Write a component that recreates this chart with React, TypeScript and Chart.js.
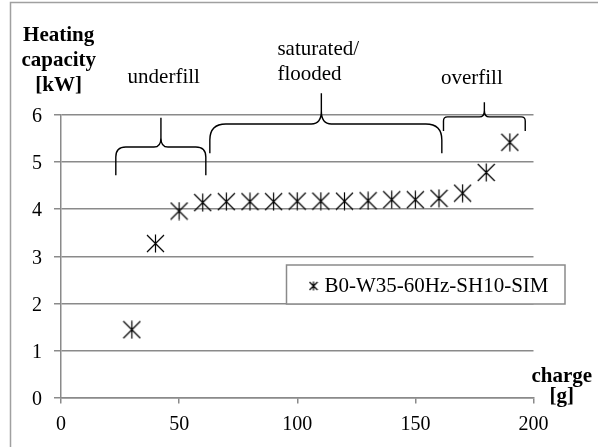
import React, { useEffect, useRef } from "react";
import { Chart, registerables } from "chart.js";

Chart.register(...registerables);

// Refrigerant charge (g) and simulated heating capacity (kW)
const chargeGrams = [30, 40, 50, 60, 70, 80, 90, 100, 110, 120, 130, 140, 150, 160, 170, 180, 190];
const heatingKW = [1.44, 3.27, 3.96, 4.14, 4.16, 4.16, 4.16, 4.17, 4.17, 4.17, 4.18, 4.2, 4.2, 4.23, 4.34, 4.78, 5.42];

const xTickValues = [0, 50, 100, 150, 200];
const yTickValues = [0, 1, 2, 3, 4, 5, 6];

const seriesLabel = "B0-W35-60Hz-SH10-SIM";
const yTitleLines = ["Heating", "capacity", "[kW]"];
const xTitleLines = ["charge", "[g]"];

// Operating regions marked with curly braces (in axis units)
const regionNames = ["underfill", "saturated/\nflooded", "overfill"];
const regionFrom = [23.2, 63.0, 161.9];
const regionTo = [61.3, 161.2, 196.5];
const regionTip = [42.3, 110.2, 179.2];

// Brace geometry and label placement (axis units / pixels)
const BRACE = [
  { yEnd: 4.72, yLevel: 5.32, yTop: 5.94, r: 10, rt: 7, labelX: 43.5, labelY: 6.69, align: "center" as CanvasTextAlign },
  { yEnd: 5.19, yLevel: 5.81, yTop: 6.46, r: 16, rt: 10, labelX: 91.6, labelY: 7.27, align: "left" as CanvasTextAlign },
  { yEnd: 5.66, yLevel: 5.96, yTop: 6.27, r: 4, rt: 5, labelX: 173.9, labelY: 6.65, align: "center" as CanvasTextAlign },
];

const SERIF = "'Liberation Serif', 'Times New Roman', serif";
const GRID = "#8a8a8a";

function makeStar(size: number, lw: number): HTMLCanvasElement {
  const c = document.createElement("canvas");
  c.width = size;
  c.height = size;
  const g = c.getContext("2d")!;
  g.strokeStyle = "#000";
  g.lineWidth = lw;
  const h = size / 2;
  g.beginPath();
  g.moveTo(1, 1);
  g.lineTo(size - 1, size - 1);
  g.moveTo(size - 1, 1);
  g.lineTo(1, size - 1);
  g.moveTo(h, 0.5);
  g.lineTo(h, size - 0.5);
  g.stroke();
  return c;
}

function drawBrace(
  ctx: CanvasRenderingContext2D,
  x1: number, x2: number, xt: number,
  yEnd: number, yLvl: number, yTop: number,
  r: number, rt: number
) {
  ctx.beginPath();
  ctx.moveTo(x1, yEnd);
  ctx.lineTo(x1, yLvl + r);
  ctx.quadraticCurveTo(x1, yLvl, x1 + r, yLvl);
  ctx.lineTo(xt - rt, yLvl);
  ctx.quadraticCurveTo(xt, yLvl, xt, yLvl - rt * 1.3);
  ctx.lineTo(xt, yTop);
  ctx.moveTo(xt, yLvl - rt * 1.3);
  ctx.quadraticCurveTo(xt, yLvl, xt + rt, yLvl);
  ctx.lineTo(x2 - r, yLvl);
  ctx.quadraticCurveTo(x2, yLvl, x2, yLvl + r);
  ctx.lineTo(x2, yEnd);
  ctx.stroke();
}

const decorPlugin = {
  id: "decor",
  afterDraw(chart: any) {
    const ctx: CanvasRenderingContext2D = chart.ctx;
    const xs = chart.scales.x;
    const ys = chart.scales.y;
    ctx.save();

    // outer frame
    ctx.strokeStyle = "#a0a0a0";
    ctx.lineWidth = 1.5;
    ctx.strokeRect(10.5, 2.5, 800, 800);

    // region braces and their names
    ctx.strokeStyle = "#000";
    ctx.lineWidth = 1.4;
    ctx.fillStyle = "#000";
    ctx.font = `21px ${SERIF}`;
    ctx.textBaseline = "alphabetic";
    regionNames.forEach((name, i) => {
      const b = BRACE[i];
      drawBrace(
        ctx,
        xs.getPixelForValue(regionFrom[i]),
        xs.getPixelForValue(regionTo[i]),
        xs.getPixelForValue(regionTip[i]),
        ys.getPixelForValue(b.yEnd),
        ys.getPixelForValue(b.yLevel),
        ys.getPixelForValue(b.yTop),
        b.r,
        b.rt
      );
      ctx.textAlign = b.align;
      const lines = name.split("\n");
      const bx = xs.getPixelForValue(b.labelX);
      const by = ys.getPixelForValue(b.labelY);
      lines.forEach((ln, k) => ctx.fillText(ln, bx, by + k * 25));
    });

    // legend box
    const lx = 286.5, ly = 265, lw = 278.5, lh = 39;
    ctx.fillStyle = "#fff";
    ctx.fillRect(lx, ly, lw, lh);
    ctx.strokeStyle = GRID;
    ctx.lineWidth = 1.5;
    ctx.strokeRect(lx, ly, lw, lh);
    const small = makeStar(10, 1.2);
    ctx.drawImage(small, 308.5, 281);
    ctx.fillStyle = "#000";
    ctx.font = `21px ${SERIF}`;
    ctx.textAlign = "left";
    ctx.fillText(seriesLabel, 324.5, 292);

    // axis titles
    ctx.font = `bold 21px ${SERIF}`;
    ctx.textAlign = "center";
    yTitleLines.forEach((t, k) => ctx.fillText(t, 58.7, 40.7 + k * 25));
    xTitleLines.forEach((t, k) => ctx.fillText(t, 561.7, 381.5 + k * 20));

    ctx.restore();
  },
};

export default function App() {
  const ref = useRef<HTMLCanvasElement>(null);

  useEffect(() => {
    const star = makeStar(19, 1.2);
    const chart = new Chart(ref.current!, {
      type: "scatter",
      data: {
        datasets: [
          {
            label: seriesLabel,
            data: chargeGrams.map((x, i) => ({ x, y: heatingKW[i] })),
            pointStyle: star as any,
            pointRadius: 9,
            showLine: false,
          },
        ],
      },
      options: {
        animation: false,
        responsive: true,
        maintainAspectRatio: false,
        layout: { padding: { left: 0, top: 115, right: 64.5, bottom: 0 } },
        plugins: { legend: { display: false }, tooltip: { enabled: false } },
        scales: {
          x: {
            type: "linear",
            min: 0,
            max: 200,
            afterFit: (s: any) => { s.height = 49.5; },
            afterBuildTicks: (s: any) => { s.ticks = xTickValues.map((v) => ({ value: v })); },
            ticks: { color: "#000", font: { family: SERIF, size: 20 }, padding: 9 },
            grid: { drawOnChartArea: false, color: GRID, tickLength: 6, lineWidth: 1.5 },
            border: { color: GRID, width: 1.5 },
          },
          y: {
            min: 0,
            max: 6,
            afterFit: (s: any) => { s.width = 61; },
            afterBuildTicks: (s: any) => { s.ticks = yTickValues.map((v) => ({ value: v })); },
            ticks: { color: "#000", font: { family: SERIF, size: 20 }, padding: 12, labelOffset: 2 },
            grid: { color: GRID, tickLength: 7, lineWidth: 1.5 },
            border: { color: GRID, width: 1.5 },
          },
        },
      },
      plugins: [decorPlugin],
    });
    return () => chart.destroy();
  }, []);

  return (
    <div style={{ position: "fixed", left: 0, top: 0, width: 598, height: 447, background: "#fff" }}>
      <canvas ref={ref} />
    </div>
  );
}
